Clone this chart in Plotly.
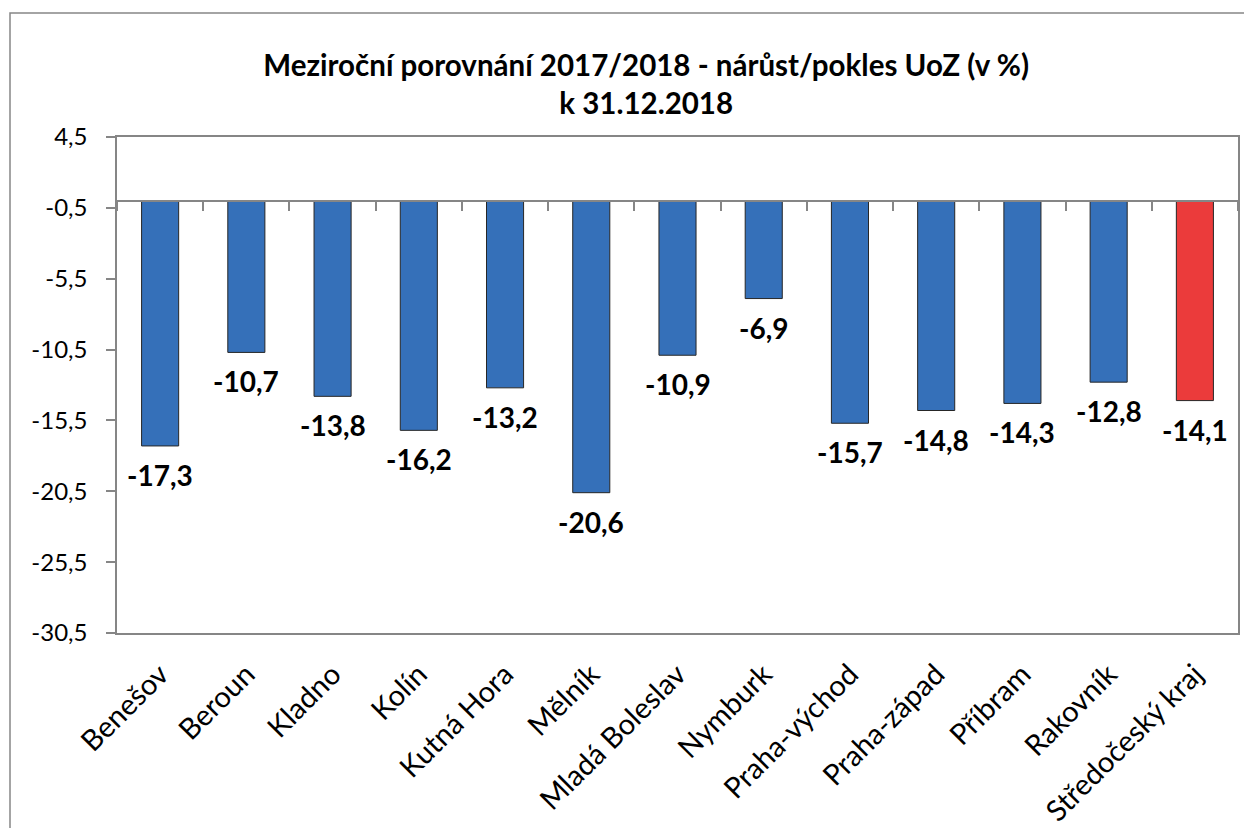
import plotly.graph_objects as go

# data
okresy = ['Benešov', 'Beroun', 'Kladno', 'Kolín', 'Kutná Hora', 'Mělník', 'Mladá Boleslav',
          'Nymburk', 'Praha-východ', 'Praha-západ', 'Příbram', 'Rakovník', 'Středočeský kraj']
zmena = [-17.3, -10.7, -13.8, -16.2, -13.2, -20.6, -10.9, -6.9, -15.7, -14.8, -14.3, -12.8, -14.1]
y_ticks = [4.5, -0.5, -5.5, -10.5, -15.5, -20.5, -25.5, -30.5]
y_tick_text = ['4,5', '-0,5', '-5,5', '-10,5', '-15,5', '-20,5', '-25,5', '-30,5']

FONT = 'Lato'
GRAY = '#868686'

colors = ['#3570b9'] * (len(okresy) - 1) + ['#eb3b3b']
labels = [f'{v:.1f}'.replace('.', ',') for v in zmena]

fig = go.Figure()
fig.add_trace(go.Bar(
    x=okresy,
    y=zmena,
    marker=dict(color=colors, line=dict(color='#262626', width=1)),
    hoverinfo='x+y',
    showlegend=False
))

# value labels below bar ends
for name, val, txt in zip(okresy, zmena, labels):
    fig.add_annotation(
        x=name, y=val, text=txt, showarrow=False,
        yanchor='top', yshift=-10,
        font=dict(family=FONT, size=28, color='black', weight='bold')
    )

# zero line with category ticks
fig.add_trace(go.Scatter(x=okresy, y=[0] * len(okresy), xaxis='x2', mode='markers',
                         marker=dict(opacity=0), hoverinfo='skip', showlegend=False))

fig.update_layout(
    width=1244,
    height=820,
    paper_bgcolor='white',
    plot_bgcolor='white',
    font=dict(family=FONT, color='black'),
    title=dict(
        text='Meziroční porovnání 2017/2018 - nárůst/pokles UoZ (v %)<br>k 31.12.2018',
        x=0.513, xanchor='center', y=0.917, yanchor='middle',
        font=dict(family=FONT, size=29.5, color='black', weight='bold'),
        automargin=False
    ),
    margin=dict(l=109, r=14, t=129, b=195, autoexpand=False),
    bargap=0.57,
    xaxis=dict(
        type='category', automargin=False,
        showline=True, linecolor=GRAY, linewidth=1.5, mirror=True,
        ticks='', tickangle=-45, ticklabelstandoff=11,
        tickfont=dict(family=FONT, size=29, color='black'),
        showgrid=False
    ),
    xaxis2=dict(
        type='category', overlaying='x', anchor='free', automargin=False,
        position=30.5 / 35, side='bottom',
        showline=True, linecolor=GRAY, linewidth=1.5,
        ticks='outside', tickson='boundaries', ticklen=9, tickcolor=GRAY, tickwidth=1.5,
        showticklabels=False, showgrid=False,
        range=[-0.5, len(okresy) - 0.5]
    ),
    yaxis=dict(
        range=[-30.5, 4.5], automargin=False,
        tickvals=y_ticks, ticktext=y_tick_text,
        showline=True, linecolor=GRAY, linewidth=1.5, mirror=True,
        ticks='outside', ticklen=9, tickcolor=GRAY, tickwidth=1.5,
        ticklabelstandoff=14,
        tickfont=dict(family=FONT, size=24, color='black'),
        showgrid=False, zeroline=False
    ),
    shapes=[dict(
        type='rect', xref='paper', yref='paper',
        x0=(10 - 117) / 1121, x1=1.03, y0=-0.45, y1=1 + (137 - 13) / 496,
        line=dict(color=GRAY, width=1.5), fillcolor='rgba(0,0,0,0)', layer='below'
    )]
)

fig.write_html('out.html')
